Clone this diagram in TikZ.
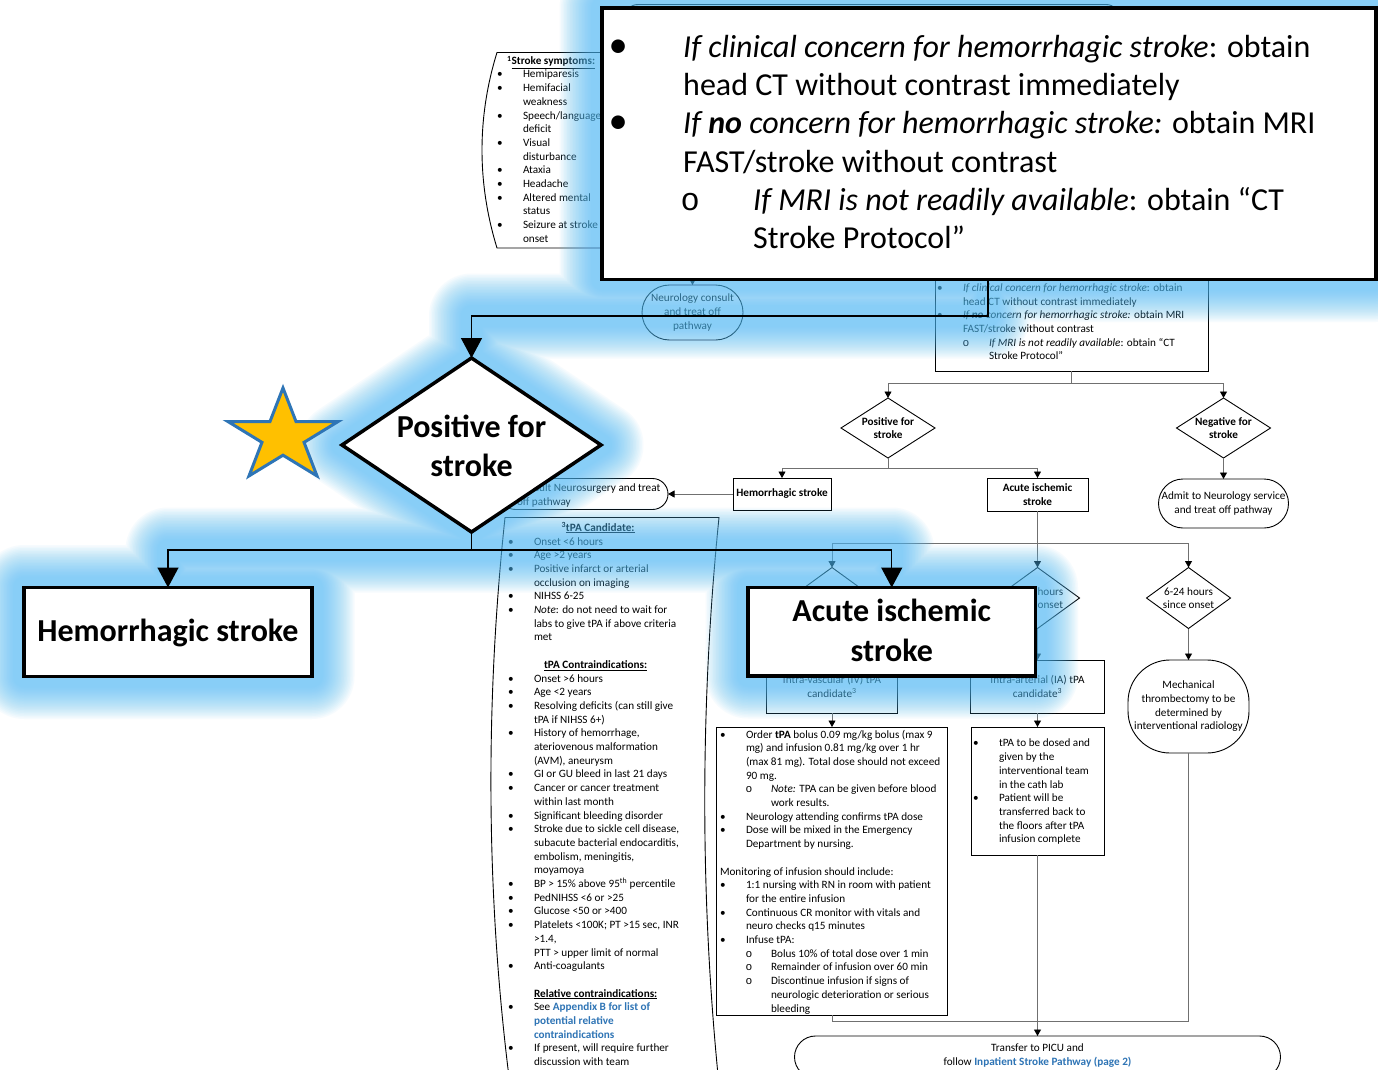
\documentclass[tikz,border=0pt]{standalone}
\usepackage{fontspec}
\setmainfont{Carlito}
\newfontfamily\monof{Liberation Mono}
\usetikzlibrary{arrows.meta,shapes.geometric}
\pgfdeclarelayer{base}
\pgfdeclarelayer{glow}
\pgfsetlayers{base,glow,main}

\definecolor{glowblue}{RGB}{83,189,247}
\definecolor{linkblue}{RGB}{46,116,181}
\definecolor{connc}{RGB}{112,112,112}
\definecolor{staryellow}{RGB}{255,192,0}
\definecolor{starblue}{RGB}{46,117,182}

\newcommand\fsm{\fontsize{11.2}{13.7}\selectfont}
\newcommand\fbig{\fontsize{32}{38.3}\selectfont}
\newcommand\fhead{\fontsize{32}{39}\selectfont}
\newcommand\mk[2]{\llap{\makebox[0pt][c]{#1}\hspace{#2}}}
\newcommand\smbul{\mk{\textbullet}{23pt}}
\newcommand\smsub{\mk{{\monof o}}{23pt}}
\newcommand\smsubb{\mk{{\monof o}}{22pt}}
\newcommand\bgbul{\mk{\scalebox{1.2}{\textbullet}}{65pt}}
\newcommand\bgsub{\mk{{\monof o}}{63pt}}

\tikzset{
  thinbox/.style={draw=black, line width=0.9pt, fill=white, inner sep=0pt, outer sep=0pt},
  dia/.style={thinbox, shape=diamond},
  conn/.style={draw=connc, line width=0.9pt},
  arr/.style={-{Triangle[length=6.5pt,width=7pt,color=black]}},
  txt/.style={font=\fsm, inner sep=0pt, outer sep=0pt, align=left},
  ctxt/.style={font=\fsm, inner sep=0pt, align=center},
  heavy/.style={draw=black, line width=3.5pt, fill=white, inner sep=0pt, outer sep=0pt},
  bigline/.style={draw=black, line width=1.4pt},
  bigarr/.style={-{Triangle[length=20pt,width=21pt]}},
  starsty/.style={draw=starblue, fill=staryellow, line width=3pt, line join=miter},
}

\begin{document}
\begin{tikzpicture}[x=1pt,y=-1pt]
\useasboundingbox (0,0) rectangle (1378,1070);

% ---------------- underlying flowchart ----------------
\begin{pgfonlayer}{base}
\fill[white] (0,0) rectangle (1378,1070);

% header shape behind the callout
\draw[line width=0.9pt, rounded corners=14pt] (624,4.5) rectangle (1120,140);

% stroke symptoms note
\draw[line width=0.9pt, fill=white] (650,52.5) -- (497,52.5)
  .. controls (477,117) and (477,183) .. (497,248) -- (650,248);
\node[font=\fsm\bfseries, anchor=base west, inner sep=0pt] (symhd) at (507,65)
  {\textsuperscript{1}\underline{Stroke symptoms:}};
\node[txt, anchor=north west] (symlist) at (523,68.4)
  {\strut\smbul Hemiparesis\\\smbul Hemifacial\\weakness\\\smbul Speech/language\\deficit\\
   \smbul Visual\\disturbance\\\smbul Ataxia\\\smbul Headache\\\smbul Altered mental\\status\\
   \smbul Seizure at stroke\\onset};

% neurology consult
\node[thinbox, rounded corners=27.5pt, minimum width=101pt, minimum height=55pt, ctxt]
  (neuro) at (692.5,312.5) {Neurology consult\\and treat off\\pathway};
\coordinate (nin) at (692.5,262);
\draw[conn, arr] (nin) -- (neuro.north);

% imaging box
\node[thinbox, minimum width=273pt, minimum height=111pt, anchor=south west] (rbox) at (935,371) {};
\node[txt, anchor=north west] (rtxt) at (963,281.9)
  {\strut\smbul\textit{If clinical concern for hemorrhagic stroke}: obtain\\
   head CT without contrast immediately\\
   \smbul\textit{If \textbf{no} concern for hemorrhagic stroke:} obtain MRI\\
   FAST/stroke without contrast\\
   \hspace*{26pt}\smsub\textit{If MRI is not readily available}: obtain “CT\\
   \hspace*{26pt}Stroke Protocol”};

% stroke decision
\node[dia, minimum width=94pt, minimum height=60pt] (pd) at (888,428) {};
\node[ctxt, font=\fsm\bfseries] (pdt) at (pd) {Positive for\\stroke};
\node[dia, minimum width=94pt, minimum height=60pt] (nd) at (1223.5,428) {};
\node[ctxt, font=\fsm\bfseries] (ndt) at (nd) {Negative for\\stroke};
\coordinate (j1) at (1071.5,383);
\draw[conn] (rbox.south) -- (j1);
\draw[conn, arr] (j1) -| (pd.north);
\draw[conn, arr] (j1) -| (nd.north);

\node[thinbox, minimum width=98pt, minimum height=32pt, ctxt, font=\fsm\bfseries]
  (hs) at (782,494) {Hemorrhagic stroke};
\node[thinbox, minimum width=101pt, minimum height=33pt, ctxt, font=\fsm\bfseries]
  (ai) at (1037.5,494.5) {Acute ischemic\\stroke};
\coordinate (j2) at (888,468);
\draw[conn] (pd.south) -- (j2);
\draw[conn, arr] (j2) -| (hs.north);
\draw[conn, arr] (j2) -| (ai.north);

\node[thinbox, rounded corners=24.5pt, minimum width=130pt, minimum height=49pt, ctxt]
  (admit) at (1223.5,503.5) {Admit to Neurology service\\and treat off pathway};
\draw[conn, arr] (nd.south) -- (admit.north);

\node[thinbox, rounded corners=15.5pt, minimum width=168pt, minimum height=31pt] (cons) at (584,494) {};
\node[txt, anchor=north west] (const) at (517,482.4) {\strut Consult Neurosurgery and treat\\off pathway};
\draw[conn, arr] (hs.west) -- (cons.east);

% time since onset
\coordinate (j3) at (1037.5,543);
\draw[conn] (ai.south) -- (j3);
\node[dia, minimum width=84pt, minimum height=61pt] (d1) at (832,598) {};
\node[dia, minimum width=84pt, minimum height=61pt] (d2) at (1037.5,598) {};
\node[ctxt] (d2t) at (d2) {4.5-6 hours\\since onset};
\node[dia, minimum width=84pt, minimum height=61pt] (d3) at (1188.5,598) {};
\node[ctxt] (d3t) at (d3) {6-24 hours\\since onset};
\draw[conn, arr] (j3) -| (d1.north);
\draw[conn, arr] (j3) -| (d3.north);
\draw[conn, arr] (j3) -- (d2.north);

\node[thinbox, minimum width=131pt, minimum height=53pt, ctxt] (ivc) at (832,686.5)
  {Intra-vascular (IV) tPA\\candidate\textsuperscript{3}};
\node[thinbox, minimum width=134pt, minimum height=53pt, ctxt] (iac) at (1037.5,686.5)
  {Intra-arterial (IA) tPA\\candidate\textsuperscript{3}};
\node[thinbox, rounded corners=42pt, minimum width=121pt, minimum height=93pt, ctxt] (mech) at (1188.5,706.5)
  {Mechanical\\thrombectomy to be\\determined by\\interventional radiology};
\draw[conn, arr] (d1.south) -- (ivc.north);
\draw[conn, arr] (d2.south) -- (iac.north);
\draw[conn, arr] (d3.south) -- (mech.north);

% IV tPA orders
\node[thinbox, minimum width=231pt, minimum height=288pt, anchor=north] (ivt) at (832,727) {};
\node[txt, anchor=north west] (ivtt) at (746,728.4)
  {\strut\smbul Order \textbf{tPA} bolus 0.09 mg/kg bolus (max 9\\
   mg) and infusion 0.81 mg/kg over 1 hr\\
   (max 81 mg). Total dose should not exceed\\
   90 mg.\\
   \hspace*{25pt}\smsubb\textit{Note:} TPA can be given before blood\\
   \hspace*{25pt}work results.\\
   \smbul Neurology attending confirms tPA dose\\
   \smbul Dose will be mixed in the Emergency\\
   Department by nursing.\\
   \mbox{}\\
   \hspace*{-26pt}Monitoring of infusion should include:\\
   \smbul 1:1 nursing with RN in room with patient\\
   for the entire infusion\\
   \smbul Continuous CR monitor with vitals and\\
   neuro checks q15 minutes\\
   \smbul Infuse tPA:\\
   \hspace*{25pt}\smsubb Bolus 10\% of total dose over 1 min\\
   \hspace*{25pt}\smsubb Remainder of infusion over 60 min\\
   \hspace*{25pt}\smsubb Discontinue infusion if signs of\\
   \hspace*{25pt}neurologic deterioration or serious\\
   \hspace*{25pt}bleeding};
\draw[conn, arr] (ivc.south) -- (ivt.north);

% IA tPA orders
\node[thinbox, minimum width=133pt, minimum height=128pt, anchor=north] (iat) at (1037.5,727) {};
\node[txt, anchor=north west] (iatt) at (999,737.4)
  {\strut\smbul tPA to be dosed and\\given by the\\interventional team\\in the cath lab\\
   \smbul Patient will be\\transferred back to\\the floors after tPA\\infusion complete};
\draw[conn, arr] (iac.south) -- (iat.north);

% transfer
\node[thinbox, rounded corners=21pt, minimum width=486pt, minimum height=42pt] (xfer) at (1037.5,1057) {};
\node[ctxt] (xfert) at (1037.5,1055.5)
  {Transfer to PICU and\\follow {\color{linkblue}\bfseries Inpatient Stroke Pathway (page 2)}};
\coordinate (j4) at (1037.5,1021);
\draw[conn] (ivt.south) |- (j4) -| (mech.south);
\draw[conn, arr] (iat.south) -- (xfer.north);

% tPA candidate criteria
\draw[line width=0.9pt, fill=white] (505,517.5) -- (719,517.5)
  .. controls (700,705) and (700,897) .. (719,1085) -- (510,1085)
  .. controls (486,897) and (485,705) .. (505,517.5) -- cycle;
\node[font=\fsm\bfseries, anchor=base, inner sep=0pt] (tpahd) at (598,531)
  {\textsuperscript{3}\underline{tPA Candidate:}};
\node[txt, anchor=north west] (tpalist) at (534,535.4)
  {\strut\smbul Onset <6 hours\\
   \smbul Age >2 years\\
   \smbul Positive infarct or arterial\\
   occlusion on imaging\\
   \smbul NIHSS 6-25\\
   \smbul\textit{Note}: do not need to wait for\\
   labs to give tPA if above criteria\\
   met\\
   \mbox{}\\
   \hspace*{10pt}\textbf{\underline{tPA Contraindications:}}\\
   \smbul Onset >6 hours\\
   \smbul Age <2 years\\
   \smbul Resolving deficits (can still give\\
   tPA if NIHSS 6+)\\
   \smbul History of hemorrhage,\\
   ateriovenous malformation\\
   (AVM), aneurysm\\
   \smbul GI or GU bleed in last 21 days\\
   \smbul Cancer or cancer treatment\\
   within last month\\
   \smbul Significant bleeding disorder\\
   \smbul Stroke due to sickle cell disease,\\
   subacute bacterial endocarditis,\\
   embolism, meningitis,\\
   moyamoya\\
   \smbul BP > 15\% above 95\textsuperscript{th} percentile\\
   \smbul PedNIHSS <6 or >25\\
   \smbul Glucose <50 or >400\\
   \smbul Platelets <100K; PT >15 sec, INR\\
   >1.4,\\
   PTT > upper limit of normal\\
   \smbul Anti-coagulants\\
   \mbox{}\\
   \textbf{\underline{Relative contraindications:}}\\
   \smbul See \textcolor{linkblue}{\textbf{Appendix B for list of}}\\
   \textcolor{linkblue}{\textbf{potential relative}}\\
   \textcolor{linkblue}{\textbf{contraindications}}\\
   \smbul If present, will require further\\
   discussion with team};
\end{pgfonlayer}

% ---------------- enlarged callouts ----------------
\node[heavy, minimum width=774pt, minimum height=271.5pt, anchor=north west] (topbox) at (602,8) {};
\node[font=\fbig, inner sep=0pt, align=left, anchor=north west] (toptxt) at (683,30.2)
  {\strut\bgbul\textit{If clinical concern for hemorrhagic stroke}: obtain\\
   head CT without contrast immediately\\
   \bgbul\textit{If \textbf{no} concern for hemorrhagic stroke:} obtain MRI\\
   FAST/stroke without contrast\\
   \hspace*{70pt}\bgsub\textit{If MRI is not readily available}: obtain “CT\\
   \hspace*{70pt}Stroke Protocol”};

\node[heavy, shape=diamond, minimum width=259pt, minimum height=174pt] (bigdia) at (471.5,445) {};
\node[font=\fhead\bfseries, inner sep=0pt, align=center, anchor=north] (bigdiat) at (471.5,409.7)
  {\strut Positive for\\stroke};

\coordinate (tapA) at (988,316);
\draw[bigline, bigarr] (topbox.south -| tapA) -- (tapA) -- (tapA -| bigdia.north) -- (bigdia.north);

\node[heavy, minimum width=288pt, minimum height=89pt] (hemo) at (168,632) {};
\node[font=\fhead\bfseries, inner sep=0pt, anchor=base] (hemot) at (168,641) {Hemorrhagic stroke};
\node[heavy, minimum width=287.5pt, minimum height=88.5pt] (acute) at (891.75,631.75) {};
\node[font=\fontsize{32}{40}\selectfont\bfseries, inner sep=0pt, align=center, anchor=north]
  (acutet) at (891.75,593) {\strut Acute ischemic\\stroke};

\coordinate (jn) at (471.5,550);
\draw[bigline] (bigdia.south) -- (jn);
\draw[bigline, bigarr] (jn) -| (hemo.north);
\draw[bigline, bigarr] (jn) -| (acute.north);

% star marker
\begin{scope}[shift={(283,436.6)}, xscale=1.19]
  \draw[starsty] (270:48.6) -- (306:18.6) -- (342:48.6) -- (18:18.6) -- (54:48.6)
    -- (90:18.6) -- (126:48.6) -- (162:18.6) -- (198:48.6) -- (234:18.6) -- cycle;
\end{scope}

% ---------------- soft highlight around the callouts ----------------
\begin{pgfonlayer}{glow}
\foreach \w in {22,25,...,85} {
  \draw[glowblue, opacity=0.046, line width=\w pt, line join=round, line cap=round]
    (topbox.north west) rectangle (topbox.south east)
    (topbox.south -| tapA) -- (tapA) -- (tapA -| bigdia.north) -- (bigdia.north)
    (bigdia.north) -- (bigdia.east) -- (bigdia.south) -- (bigdia.west) -- cycle
    (bigdia.south) -- (jn)
    (hemo.north) -- (hemo.north |- jn) -- (acute.north |- jn) -- (acute.north)
    (hemo.north west) rectangle (hemo.south east)
    (acute.north west) rectangle (acute.south east);
}
\end{pgfonlayer}
\end{tikzpicture}
\end{document}
